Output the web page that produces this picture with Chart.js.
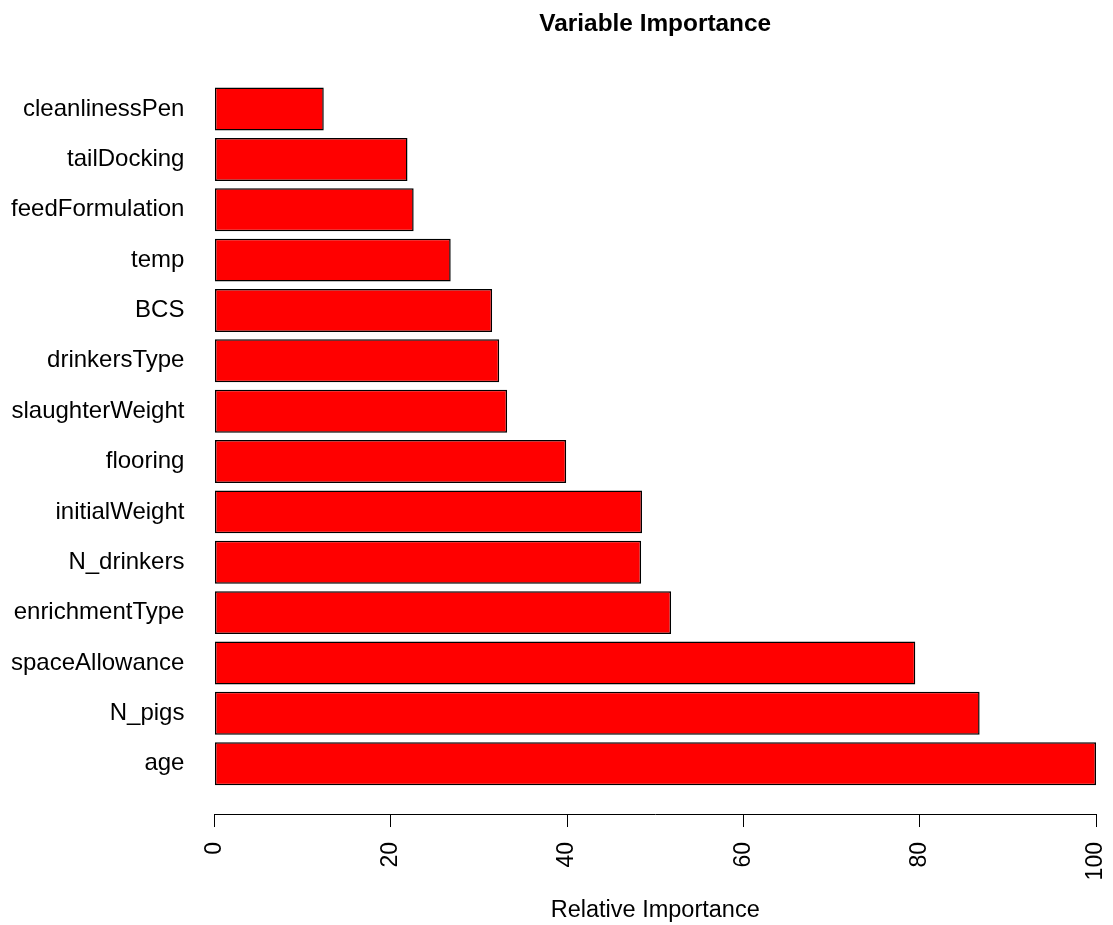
<!DOCTYPE html>
<html>
<head>
<meta charset="utf-8">
<title>Variable Importance</title>
<script src="https://cdn.jsdelivr.net/npm/chart.js@4.4.1/dist/chart.umd.min.js"></script>
<style>
    html, body { margin: 0; padding: 0; background: #fff; }
    #wrap { width: 1113px; height: 925px; position: relative; }
</style>
</head>
<body>
<div id="wrap"><canvas id="impChart"></canvas></div>
<script>
// variables, top to bottom as in the plot
var variables = ["cleanlinessPen", "tailDocking", "feedFormulation", "temp", "BCS",
    "drinkersType", "slaughterWeight", "flooring", "initialWeight", "N_drinkers",
    "enrichmentType", "spaceAllowance", "N_pigs", "age"];
var importance = [12.4, 21.9, 22.6, 26.8, 31.5, 32.3, 33.2, 39.9, 48.5, 48.4, 51.8, 79.5, 86.8, 100];
var xTicks = [0, 20, 40, 60, 80, 100];

var fontFamily = "'Liberation Sans', Arial, sans-serif";

document.addEventListener("DOMContentLoaded", function () {
    var points = importance.map((v, i) => ({ x: v, y: i }));

    var ctx = document.getElementById("impChart").getContext("2d");
    new Chart(ctx, {
        type: "bar",
        data: {
            datasets: [{
                label: "Relative Importance",
                data: points,
                backgroundColor: "#ff0000",
                borderColor: "#000000",
                borderWidth: 1.5,
                borderSkipped: false,
                barPercentage: 0.853,
                categoryPercentage: 1
            }]
        },
        options: {
            indexAxis: "y",
            responsive: true,
            maintainAspectRatio: false,
            animation: false,
            // tick padding is counted twice by the y axis, hence the negative left
            layout: { padding: { left: -19, right: 17, top: 0, bottom: 0 } },
            plugins: {
                legend: { display: false },
                tooltip: { enabled: false }
            },
            scales: {
                x: {
                    type: "linear",
                    position: "bottom",
                    min: 0,
                    max: 100,
                    afterBuildTicks: s => { s.ticks = xTicks.map(v => ({ value: v })); },
                    afterFit: s => { s.paddingLeft = 0; s.paddingRight = 0; },
                    border: { display: true, color: "#000", width: 1 },
                    grid: { drawOnChartArea: false, drawTicks: true, tickLength: 13, color: "#000", lineWidth: 1 },
                    ticks: {
                        minRotation: 90,
                        maxRotation: 90,
                        padding: 15,
                        color: "#000",
                        font: { family: fontFamily, size: 23 }
                    },
                    title: {
                        display: true,
                        text: "Relative Importance",
                        color: "#000",
                        font: { family: fontFamily, size: 23.5 },
                        padding: { top: 1.4, bottom: 0 }
                    }
                },
                top: {
                    type: "linear",
                    position: "top",
                    display: true,
                    grid: { display: false, drawTicks: false },
                    border: { display: false },
                    ticks: { display: false },
                    title: {
                        display: true,
                        text: "Variable Importance",
                        color: "#000",
                        font: { family: fontFamily, size: 24.4, weight: "bold" },
                        padding: { top: 9.6, bottom: 45 }
                    }
                },
                y: {
                    type: "linear",
                    offset: false,
                    reverse: true,
                    min: -0.5,
                    max: 14,
                    afterBuildTicks: s => { s.ticks = variables.map((_, i) => ({ value: i })); },
                    grid: { display: false, drawTicks: false },
                    border: { display: false },
                    ticks: {
                        padding: 30,
                        color: "#000",
                        font: { family: fontFamily, size: 24 },
                        callback: v => variables[v]
                    }
                }
            }
        }
    });
});
</script>
</body>
</html>
